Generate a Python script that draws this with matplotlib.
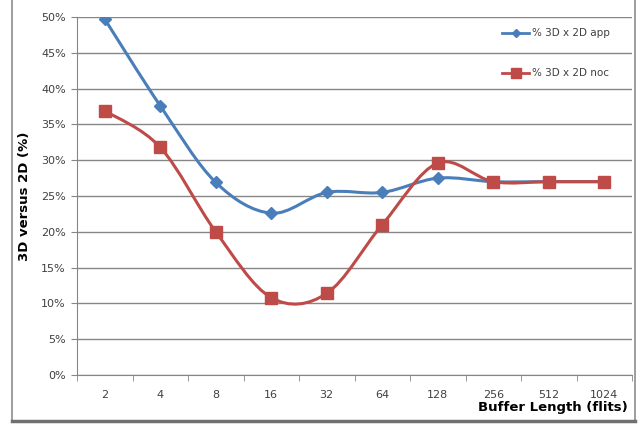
import numpy as np
import matplotlib.pyplot as plt
from matplotlib.path import Path
from matplotlib.patches import PathPatch
from matplotlib.lines import Line2D

buffer_lengths = ["2", "4", "8", "16", "32", "64", "128", "256", "512", "1024"]
app_pct = [49.7, 37.6, 26.9, 22.6, 25.5, 25.5, 27.5, 27.0, 27.0, 27.0]
noc_pct = [36.9, 31.8, 20.0, 10.8, 11.4, 21.0, 29.6, 27.0, 27.0, 27.0]

blue = "#4A7EBB"
red = "#BE4B48"
grid_col = "#868686"
txt_col = "#404040"


def smooth_path(xs, ys):
    # Excel-like smoothed line: cubic bezier with catmull-rom control points
    pts = np.column_stack([xs, ys]).astype(float)
    n = len(pts)
    verts = [pts[0]]
    codes = [Path.MOVETO]
    for i in range(n - 1):
        p0 = pts[max(i - 1, 0)]
        p1 = pts[i]
        p2 = pts[i + 1]
        p3 = pts[min(i + 2, n - 1)]
        c1 = p1 + (p2 - p0) / 6
        c2 = p2 - (p3 - p1) / 6
        verts += [c1, c2, p2]
        codes += [Path.CURVE4] * 3
    return Path(verts, codes)


fig = plt.figure(figsize=(6.39, 4.24), dpi=100)
ax = fig.add_axes([77 / 639, 1 - 375 / 424, (632 - 77) / 639, (375 - 17) / 424])

x = np.arange(len(buffer_lengths))
for vals, col, mk, ms in [(app_pct, blue, "D", 6.5), (noc_pct, red, "s", 8.5)]:
    ax.add_patch(PathPatch(smooth_path(x, vals), facecolor="none", edgecolor=col,
                           lw=2.2, zorder=3, capstyle="round"))
    ax.plot(x, vals, linestyle="none", marker=mk, ms=ms, color=col, zorder=4)

ax.set_xlim(-0.5, len(buffer_lengths) - 0.5)
ax.set_ylim(0, 50)
ax.set_yticks(np.arange(0, 51, 5))
ax.set_yticklabels([f"{v}%" for v in range(0, 51, 5)])
ax.set_xticks(x)
ax.set_xticklabels(buffer_lengths)
ax.set_xticks(np.arange(-0.5, len(buffer_lengths), 1), minor=True)
ax.tick_params(axis="x", which="major", length=0, pad=11, labelsize=8, labelcolor=txt_col)
ax.tick_params(axis="x", which="minor", length=4, color=grid_col, direction="out")
ax.tick_params(axis="y", length=4, color=grid_col, labelsize=8, labelcolor=txt_col, pad=4)
ax.grid(axis="y", color=grid_col, lw=1)
ax.set_axisbelow(True)
for s in ["top", "right"]:
    ax.spines[s].set_visible(False)
for s in ["left", "bottom"]:
    ax.spines[s].set_color(grid_col)

ax.set_ylabel("3D versus 2D (%)", fontsize=9.5, fontweight="bold", labelpad=7)
fig.text(628 / 639, 1 - 408 / 424, "Buffer Length (flits)", ha="right", va="center",
         fontsize=9.5, fontweight="bold")

handles = [
    Line2D([], [], color=blue, lw=2, marker="D", ms=4.5),
    Line2D([], [], color=red, lw=2, marker="s", ms=6.5),
]
leg = ax.legend(handles, ["% 3D x 2D app", "% 3D x 2D noc"], loc="upper left",
                bbox_to_anchor=(498 / 639, 1 - 24 / 424), bbox_transform=fig.transFigure,
                frameon=False, fontsize=7.5, labelspacing=2.9, handlelength=2.6,
                handletextpad=0.3, borderaxespad=0)
for t in leg.get_texts():
    t.set_color(txt_col)

# outer chart border
fig.add_artist(Line2D([12 / 639, 12 / 639], [3 / 424, 1.0], color="#8C8C8C", lw=1.2,
                      transform=fig.transFigure))
fig.add_artist(Line2D([635 / 639, 635 / 639], [3 / 424, 1.0], color="#8C8C8C", lw=1.2,
                      transform=fig.transFigure))
fig.add_artist(Line2D([12 / 639, 635 / 639], [3 / 424, 3 / 424], color="#707070", lw=2.5,
                      transform=fig.transFigure))

plt.savefig("out.png")
plt.close()
